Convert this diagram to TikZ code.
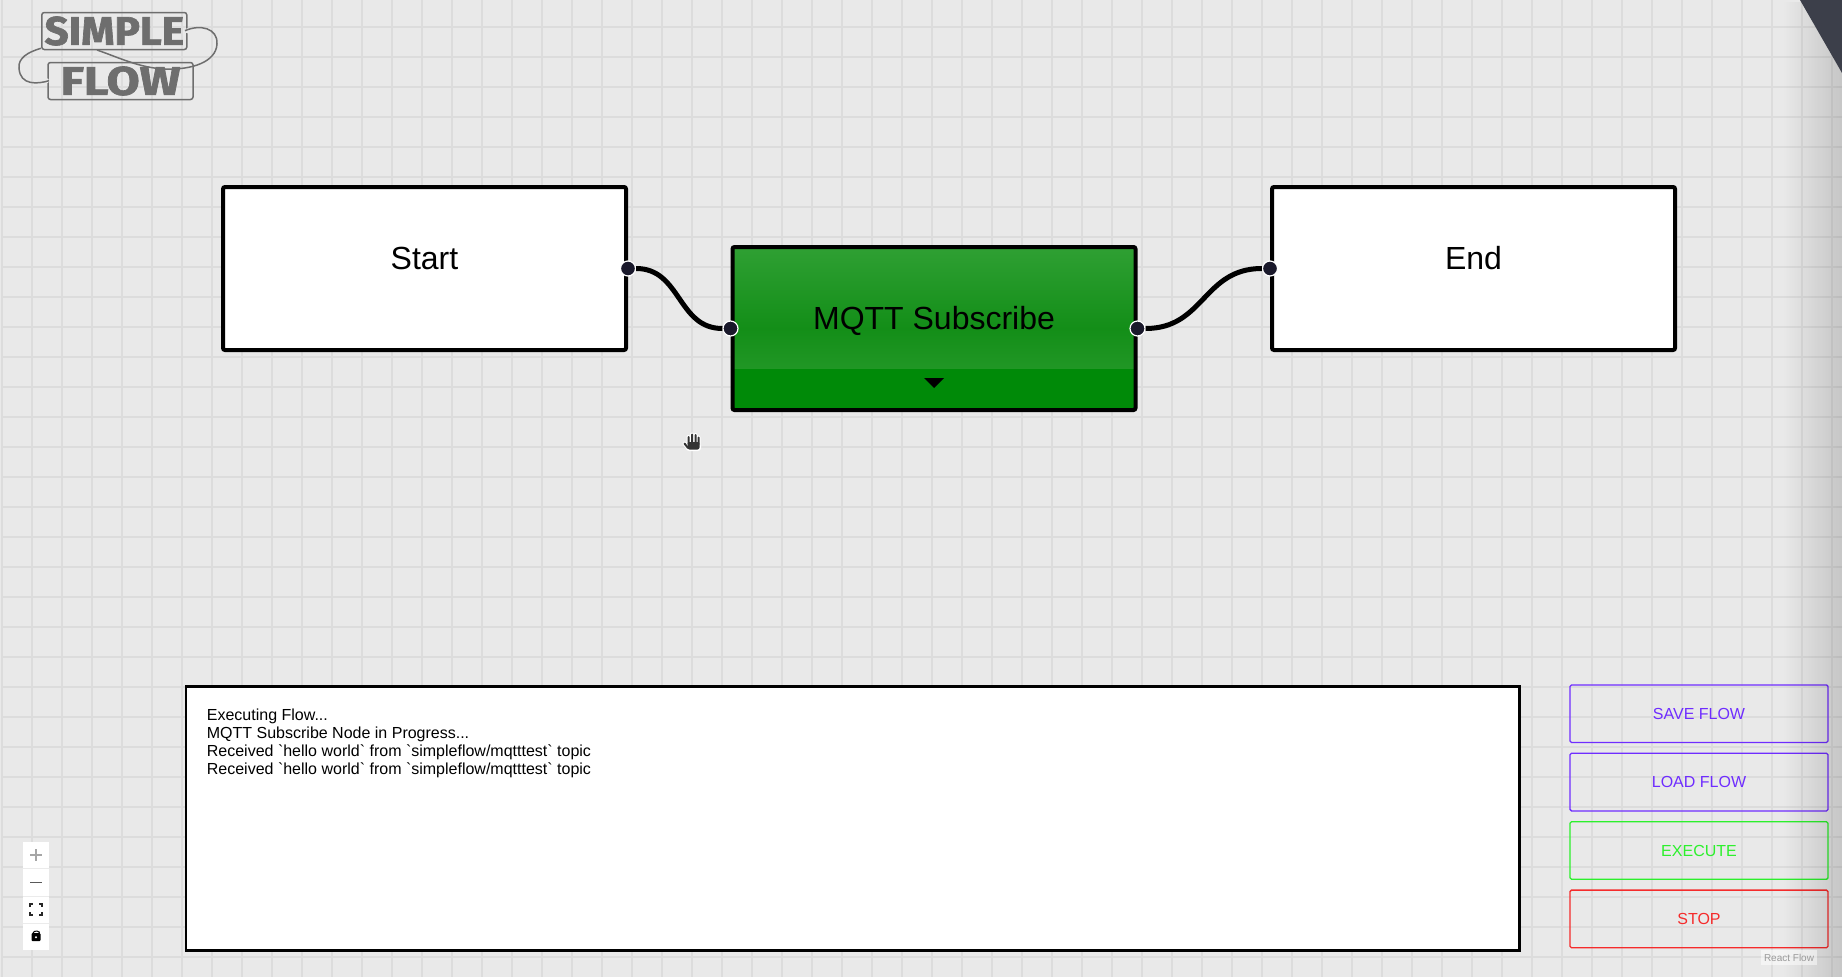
\documentclass[tikz,border=0pt]{standalone}
\usepackage{fontspec}
\usetikzlibrary{positioning,fadings}
\newfontfamily\uifont{Liberation Sans}
\newfontfamily\logofont{Fira Sans}[BoldFeatures={FakeBold=1.6}]
\definecolor{canvasbg}{HTML}{E9E9E9}
\definecolor{gridgray}{HTML}{DCDCDC}
\definecolor{logogray}{HTML}{6E6E6E}
\definecolor{handledark}{HTML}{1A192B}
\definecolor{mqttband}{HTML}{008A08}
\definecolor{mqtttop}{HTML}{2FA033}
\definecolor{mqttmid}{HTML}{138E18}
\definecolor{savepurple}{HTML}{6F2DFF}
\definecolor{execgreen}{HTML}{2CF02C}
\definecolor{stopred}{HTML}{F52B2B}
\definecolor{cornerdark}{HTML}{3C3F4A}

\begin{document}
\begin{tikzpicture}[x=1pt, y=-1pt,
	flownode/.style={draw=black, line width=4pt, rounded corners=2pt, fill=white, minimum width=403pt, minimum height=163pt, inner sep=0pt},
	flowlabel/.style={font=\uifont\fontsize{32}{38}\selectfont, text height=23pt, text depth=7pt, inner sep=0pt, yshift=7pt},
	handle/.style={circle, draw=white, line width=1.2pt, fill=handledark, minimum size=15pt, inner sep=0pt},
	flowedge/.style={draw=black, line width=5pt},
	panelbtn/.style={draw=#1, text=#1, line width=1.3pt, rounded corners=1.5pt, minimum width=258pt, minimum height=57.6pt, inner sep=0pt, font=\uifont\fontsize{16}{19}\selectfont},
	logobox/.style={draw=logogray, line width=1.5pt, rounded corners=2.5pt, minimum width=145pt, minimum height=37pt, inner sep=0pt, text=logogray},
	logoline/.style={draw=logogray, line width=1.5pt},
	ctrlbtn/.style={fill=white, minimum width=26.5pt, minimum height=26.8pt, inner sep=0pt},
	]
	\useasboundingbox (0,0) rectangle (1842,977);
	\clip (0,0) rectangle (1842,977);

	% canvas and grid
	\fill[canvasbg] (0,0) rectangle (1842,977);
	\begin{scope}[shift={(2,-3)}]
		\draw[gridgray, line width=2.4pt, step=30pt] (0,0) grid (1860,990);
	\end{scope}

	% logo
	\node[logobox] (simplelogo) at (114.3,31) {\logofont\bfseries\fontsize{40}{44}\selectfont\scalebox{1.06}[1]{SIMPLE}};
	\node[logobox] (flowlogo) at (120.5,81) {\logofont\bfseries\fontsize{40}{44}\selectfont\scalebox{1.2}[1]{FLOW}};
	\coordinate (logoa) at (185,30.7);
	\coordinate (logob) at (97,50);
	\coordinate (logoc) at (41,48.3);
	\coordinate (logod) at (49,80.7);
	\fill[canvasbg] (187.5,30.7) circle (2.6) (46.5,80.7) circle (2.6);
	\draw[logoline] (logoa) .. controls (200,24) and (218,28) .. (217,44) .. controls (216,62) and (192,70) .. (165,69) .. controls (140,68) and (120,58) .. (logob);
	\draw[logoline] (logoc) .. controls (28,52) and (18,58) .. (19,68) .. controls (20,86) and (38,84) .. (logod);

	% flow nodes
	\node[flownode, label={[flowlabel]center:Start}] (start) at (424.5,268.5) {};
	\node[flownode, label={[flowlabel]center:End}] (end) at (1473.5,268.5) {};
	\node[flownode, path picture={
		\shade[top color=mqtttop, bottom color=mqtttop, middle color=mqttmid] (path picture bounding box.north west) rectangle ([yshift=41pt]path picture bounding box.south east);
		\fill[mqttband] (path picture bounding box.south west) rectangle ([yshift=41pt]path picture bounding box.south east);
		}, label={[flowlabel]center:MQTT Subscribe}] (mqtt) at (934,328.5) {};
	\fill[black] (mqtt.south) +(-10,-34) -- +(10,-34) -- +(0,-24) -- cycle;

	\node[handle] (startout) at (start.east) {};
	\node[handle] (mqttin) at (mqtt.west) {};
	\node[handle] (mqttout) at (mqtt.east) {};
	\node[handle] (endin) at (end.west) {};

	\path
	(startout) edge[flowedge, out=0, in=180, looseness=1.1] (mqttin)
	(mqttout) edge[flowedge, out=0, in=180, looseness=1.15] (endin);

	% hand cursor
	\draw[white, line width=4pt, line cap=round] (688.5,444) -- (688.5,437) (692,444) -- (692,434.5) (695.5,444) -- (695.5,435) (698.5,444) -- (698.5,437.5) (684.5,443.5) -- (688,448);
	\fill[white, rounded corners=3pt] (686,443) rectangle (701,451);
	\draw[black!80, line width=2pt, line cap=round] (688.5,444) -- (688.5,437) (692,444) -- (692,434.5) (695.5,444) -- (695.5,435) (698.5,444) -- (698.5,437.5) (684.5,443.5) -- (688,448);
	\fill[black!80, rounded corners=2pt] (687.5,442) rectangle (699.5,449.5);

	% log panel
	\node[draw=black, line width=2.6pt, fill=white, minimum width=1333.5pt, minimum height=264pt, inner sep=0pt] (logbox) at (852.8,818.2) {};
	\node[anchor=north west, inner sep=0pt, align=left, font=\uifont\fontsize{16}{18}\selectfont] (logtext) at (206.7,708.3) {Executing Flow...\\MQTT Subscribe Node in Progress...\\Received `hello world` from `simpleflow/mqtttest` topic\\Received `hello world` from `simpleflow/mqtttest` topic};

	% side buttons
	\node[panelbtn=savepurple] (savebtn) at (1699,713.7) {SAVE FLOW};
	\node[panelbtn=savepurple, below=9.5pt of savebtn] (loadbtn) {LOAD FLOW};
	\node[panelbtn=execgreen, below=9.5pt of loadbtn] (execbtn) {EXECUTE};
	\node[panelbtn=stopred, below=9.5pt of execbtn] (stopbtn) {STOP};

	% zoom controls
	\node[ctrlbtn] (zoomin) at (36,855.1) {};
	\node[ctrlbtn, below=0pt of zoomin] (zoomout) {};
	\node[ctrlbtn, below=0pt of zoomout] (fitview) {};
	\node[ctrlbtn, below=0pt of fitview] (lockbtn) {};
	\draw[black!8, line width=.8pt] (zoomin.south west) -- (zoomin.south east) (zoomout.south west) -- (zoomout.south east) (fitview.south west) -- (fitview.south east);
	\draw[black!35, line width=2pt] (zoomin.center) +(-6,0) -- +(6,0) (zoomin.center) +(0,-6) -- +(0,6);
	\draw[black!65, line width=1.2pt] (zoomout.center) +(-6,0) -- +(6,0);
	\draw[black!85, line width=1.2pt]
	(fitview.center) +(-6,-2.5) -- +(-6,-5.5) -- +(-3,-5.5)
	(fitview.center) +(3,-5.5) -- +(6,-5.5) -- +(6,-2.5)
	(fitview.center) +(-6,2.5) -- +(-6,5.5) -- +(-3,5.5)
	(fitview.center) +(3,5.5) -- +(6,5.5) -- +(6,2.5);
	\draw[black, line width=1pt] (lockbtn.center) +(-3,-3.5) .. controls +(0,-3.5) and +(3,-3.5) .. +(3,-2.5);
	\fill[black, rounded corners=1pt] (lockbtn.center) +(-4.5,-3.5) rectangle +(4.5,4.5);
	\fill[white] (lockbtn.center) +(0,.5) circle (1.2);

	% right edge shadow and corner
	\fill[black, opacity=.15, path fading=west] (1783,0) rectangle (1842,977);
	\fill[cornerdark] (1800,0) -- (1842,0) -- (1842,73) -- cycle;

	% attribution
	\node[fill=white, fill opacity=.5, text opacity=1, text=black!40, font=\uifont\fontsize{10}{12}\selectfont, minimum width=56pt, minimum height=15pt, inner sep=0pt] (attribution) at (1789,957.5) {React Flow};
\end{tikzpicture}
\end{document}
